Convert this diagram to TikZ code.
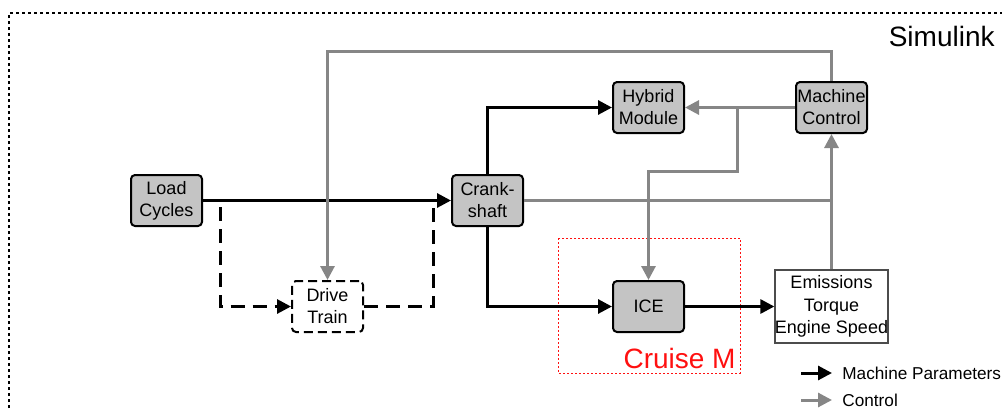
\documentclass[tikz,border=0pt]{standalone}
\usepackage{fontspec}
\setmainfont{Liberation Sans}
\usetikzlibrary{arrows.meta,positioning}
\definecolor{blockgray}{HTML}{C4C4C4}
\definecolor{ctrlgray}{HTML}{868686}
\definecolor{cruisered}{HTML}{FF1010}
\tikzset{
  block/.style={
    draw=black,
    fill=blockgray,
    line width=1pt,
    rounded corners=2pt,
    align=center,
    font=\fontsize{9}{11}\selectfont,
    minimum width=35.5pt,
    minimum height=25.5pt,
    inner sep=0pt
  },
  dashblock/.style={
    block,
    fill=white,
    dash pattern=on 4.5pt off 2.5pt
  },
  outblock/.style={
    draw=black!70,
    fill=white,
    line width=0.6pt,
    align=center,
    font=\fontsize{9}{11.2}\selectfont,
    minimum width=56pt,
    minimum height=36.5pt,
    inner sep=0pt
  },
  mech/.style={
    -{Triangle[length=7pt,width=7pt]},
    line width=1.5pt,
    draw=black
  },
  ctrl/.style={
    -{Triangle[length=7pt,width=7pt]},
    line width=1.5pt,
    draw=ctrlgray
  },
  optional/.style={
    mech,
    dash pattern=on 7pt off 4pt
  },
  frame/.style={
    draw=black,
    line width=0.6pt,
    dash pattern=on 1.5pt off 1.5pt
  },
  cruisebox/.style={
    draw=cruisered,
    line width=0.5pt,
    dash pattern=on 1pt off 1pt
  },
  legtext/.style={
    font=\fontsize{8.6}{10.5}\selectfont,
    inner sep=0pt
  }
}

\begin{document}
\begin{tikzpicture}[x=0.5pt, y=-0.5pt]

\useasboundingbox (0,0) rectangle (1002,408);

% frame of the whole model
\draw[frame] (9,408) -- (9,13) -- (1002,13);
\node[font=\fontsize{14}{16}\selectfont, anchor=east, inner sep=0pt] (simulink) at (995,36) {Simulink};

% Cruise M part
\draw[cruisebox] (558,238) rectangle (740,373);
\node[font=\fontsize{14}{16}\selectfont, text=cruisered, anchor=base east, inner sep=0pt] (cruise) at (736,368) {Cruise M};

% blocks
\node[block] (load) at (166.5,200.5) {Load\\Cycles};
\node[block] (crank) at (487.5,200.5) {Crank-\\shaft};
\node[block] (hybrid) at (648.5,107.5) {Hybrid\\Module};
\node[block] (mc) at (831.5,107.5) {Machine\\Control};
\node[block] (ice) at (648.5,306.5) {ICE};
\node[dashblock] (drive) at (327.5,306.5) {Drive\\Train};
\node[outblock] (emis) at (831.5,306.5) {Emissions\\Torque\\Engine Speed};

\coordinate (dtin) at (220,207);
\coordinate (dtout) at (433,207);
\coordinate (split) at (737,107.5);

% machine parameters
\draw[mech] (load) -- (crank);
\draw[mech] (crank.north) |- (hybrid.west);
\draw[mech] (crank.south) |- (ice.west);
\draw[mech] (ice) -- (emis);
\draw[optional] (dtin) |- (drive.west);
\draw[optional, -] (drive.east) -| (dtout);

% control
\draw[ctrl] (mc.north) -- ++(0,-30) -| (drive.north);
\draw[ctrl] (mc.west) -- (hybrid.east);
\draw[ctrl] (split) -- ++(0,64) -| (ice.north);
\draw[ctrl, -] (crank.east) -- (crank.east -| mc.south);
\draw[ctrl] (emis.north) -- (mc.south);

% legend
\node[legtext, anchor=west] (legmech) at (842,373) {Machine Parameters};
\node[legtext, anchor=west] (legctrl) at (842,400) {Control};
\coordinate (legmechstart) at (801,373);
\coordinate (legctrlstart) at (801,400);
\draw[mech] (legmechstart) -- ([xshift=-5pt]legmech.west);
\draw[ctrl] (legctrlstart) -- ([xshift=-5pt]legctrl.west);

\end{tikzpicture}
\end{document}
